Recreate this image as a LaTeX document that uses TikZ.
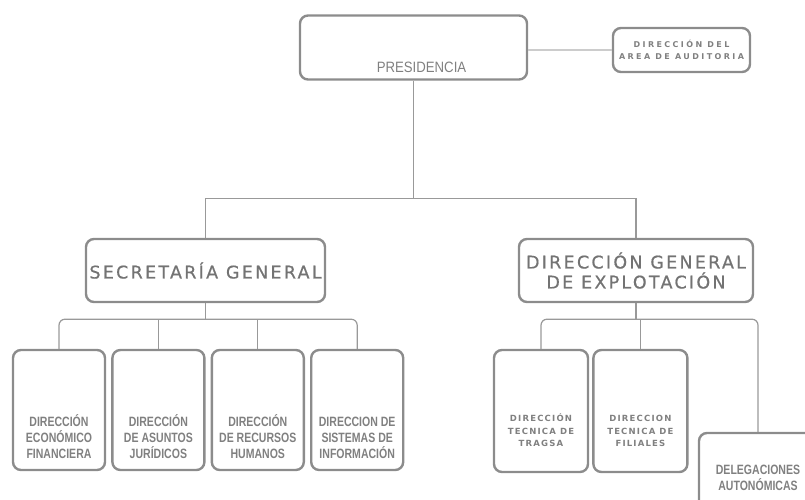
\documentclass[tikz,border=0pt]{standalone}
\usepackage{fontspec}
\setmainfont{Liberation Sans}
\newfontfamily\narrowfont{Liberation Sans}[FakeStretch=0.78]
\newfontfamily\presfont{Liberation Sans}[FakeStretch=0.88]
\newfontfamily\widefont{DejaVu Sans}[LetterSpace=13,FakeBold=0.6]
\newfontfamily\spacedfont{DejaVu Sans}[LetterSpace=14]
\newfontfamily\audfont{DejaVu Sans}[LetterSpace=30]
\usetikzlibrary{positioning}
\definecolor{boxgray}{gray}{0.55}
\definecolor{textgray}{gray}{0.5}
\definecolor{linegray}{gray}{0.6}
\definecolor{palegray}{gray}{0.8}

\begin{document}
\begin{tikzpicture}[x=1pt,y=-1pt,semithick,
    unit/.style={draw=boxgray,line width=2.4pt,rounded corners=8pt,inner sep=0pt,text=textgray},
    conn/.style={draw=linegray,line width=1.2pt},
    txt/.style={text=textgray,inner sep=0pt,align=center,font=\narrowfont\bfseries\fontsize{13.5}{16}\selectfont},
    big/.style={align=center,text=gray!90!black,font=\widefont\fontsize{17.5}{20}\selectfont},
    spaced/.style={text=textgray,inner sep=0pt,align=center,font=\spacedfont\bfseries\fontsize{8.5}{12.5}\selectfont}]
%
   \useasboundingbox (0,0) rectangle (805,500);
   \clip (0,0) rectangle (805,500);
%
   \node[unit, minimum width=227, minimum height=64] (PRES) at (413.5,47.5) {};
   \node[txt, font=\presfont\fontsize{15}{16}\selectfont, above=8pt of PRES.south, xshift=8pt] (PREStxt) {PRESIDENCIA};
   \node[unit, spaced, font=\audfont\bfseries\fontsize{8}{12}\selectfont, minimum width=137, minimum height=44] (AUD) at (681.5,50) {DIRECCIÓN DEL\\AREA DE AUDITORIA};
%
   \node[unit, big, minimum width=239, minimum height=63] (SG) at (205.5,270.5) {SECRETARÍA GENERAL};
   \node[unit, big, minimum width=234, minimum height=63] (DG) at (636,270.5) {DIRECCIÓN GENERAL\\DE EXPLOTACIÓN};
%
   \node[unit, minimum width=92, minimum height=120] (D1) at (59,410) {};
   \node[unit, minimum width=92, minimum height=120] (D2) [right=5pt of D1] {};
   \node[unit, minimum width=92, minimum height=120] (D3) [right=5pt of D2] {};
   \node[unit, minimum width=92, minimum height=120] (D4) [right=5pt of D3] {};
   \node[txt, above=12pt of D1.south] (D1txt) {DIRECCIÓN\\ECONÓMICO\\FINANCIERA};
   \node[txt, above=12pt of D2.south] (D2txt) {DIRECCIÓN\\DE ASUNTOS\\JURÍDICOS};
   \node[txt, above=12pt of D3.south] (D3txt) {DIRECCIÓN\\DE RECURSOS\\HUMANOS};
   \node[txt, above=12pt of D4.south] (D4txt) {DIRECCION DE\\SISTEMAS DE\\INFORMACIÓN};
%
   \node[unit, minimum width=94, minimum height=122] (T1) at (541,411) {};
   \node[unit, minimum width=94, minimum height=122] (T2) [right=3pt of T1] {};
   \node[unit, minimum width=118, minimum height=120] (DEL) at (758,493) {};
   \node[spaced, above=26pt of T1.south] (T1txt) {DIRECCIÓN\\TECNICA DE\\TRAGSA};
   \node[spaced, above=26pt of T2.south] (T2txt) {DIRECCION\\TECNICA DE\\FILIALES};
   \node[txt, below=33pt of DEL.north] (DELtxt) {DELEGACIONES\\AUTONÓMICAS};
%
   \draw[conn, draw=palegray] (PRES.east |- AUD.west) -- (AUD.west);
   \draw[conn] (PRES.south) -- ++(0,118) coordinate (B1);
   \draw[conn] (SG.north) |- (B1) -| (DG.north);
%
   \draw[conn] (SG.south) -- ++(0,16) coordinate (B2);
   \draw[conn, rounded corners=6pt] (D1.north) |- (B2) -| (D4.north);
   \foreach \n in {D2,D3} \draw[conn] (\n.north) -- (\n.north |- B2);
%
   \draw[conn] (DG.south) -- ++(0,16) coordinate (B3);
   \draw[conn, rounded corners=6pt] (T1.north) |- (B3) -| (DEL.north);
   \draw[conn] (T2.north) -- (T2.north |- B3);
\end{tikzpicture}
\end{document}
